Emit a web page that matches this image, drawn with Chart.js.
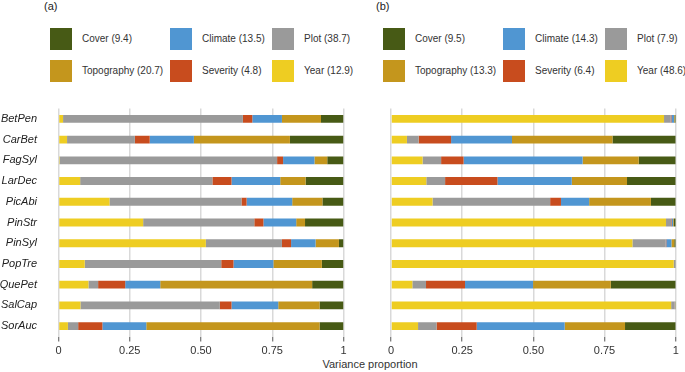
<!DOCTYPE html>
<html lang="en">
<head>
  <meta charset="UTF-8" />
  <title>Variance proportion</title>
  <script src="https://cdn.jsdelivr.net/npm/chart.js"></script>
  <style>
    body { margin: 0; background: #fff; font-family: "Liberation Sans", Arial, sans-serif; }
    #wrap { position: relative; width: 685px; height: 372px; overflow: hidden; }
    .tag { position: absolute; top: 0; font-size: 11px; color: #222; }
    .legend { position: absolute; top: 28px; display: grid; grid-template-columns: 120px 102px auto; grid-auto-rows: 32px; }
    .item { display: flex; align-items: flex-start; font-size: 10px; color: #333; }
    .item span.box { width: 22px; height: 22px; margin-right: 10px; flex: none; }
    .item span.txt { line-height: 22px; white-space: nowrap; }
    canvas { position: absolute; }
    #xtitle { position: absolute; top: 358px; left: 310px; width: 120px; text-align: center; font-size: 11px; color: #333; white-space: nowrap; }
  </style>
</head>
<body>
  <div id="wrap">
    <div class="tag" style="left:44px">(a)</div>
    <div class="tag" style="left:376px">(b)</div>
    <div class="legend" id="legendA" style="left:50px"></div>
    <div class="legend" id="legendB" style="left:383px"></div>
    <canvas id="chartA" width="352" height="263" style="left:0;top:95px"></canvas>
    <canvas id="chartB" width="345" height="263" style="left:340px;top:95px"></canvas>
    <div id="xtitle">Variance proportion</div>
  </div>

  <script>
    const species = ['BetPen', 'CarBet', 'FagSyl', 'LarDec', 'PicAbi', 'PinStr', 'PinSyl', 'PopTre', 'QuePet', 'SalCap', 'SorAuc'];

    // stacking order, left to right
    const groups = ['Year', 'Plot', 'Severity', 'Climate', 'Topography', 'Cover'];
    const colors = ['#eecd22', '#9a9a9a', '#c84c1e', '#5096d2', '#c4961d', '#475a15'];

    // legend order (row by row)
    const legendOrder = ['Cover', 'Climate', 'Plot', 'Topography', 'Severity', 'Year'];
    const totalsA = { Cover: '9.4', Climate: '13.5', Plot: '38.7', Topography: '20.7', Severity: '4.8', Year: '12.9' };
    const totalsB = { Cover: '9.5', Climate: '14.3', Plot: '7.9', Topography: '13.3', Severity: '6.4', Year: '48.6' };

    // panel (a)
    const yearA     = [0.016, 0.030, 0.004, 0.076, 0.179, 0.297, 0.517, 0.092, 0.105, 0.077, 0.033];
    const plotA     = [0.631, 0.238, 0.763, 0.464, 0.463, 0.390, 0.267, 0.479, 0.034, 0.489, 0.036];
    const severityA = [0.033, 0.052, 0.021, 0.067, 0.018, 0.032, 0.032, 0.043, 0.095, 0.041, 0.085];
    const climateA  = [0.104, 0.155, 0.110, 0.171, 0.160, 0.115, 0.086, 0.140, 0.123, 0.164, 0.154];
    const topoA     = [0.137, 0.337, 0.045, 0.089, 0.106, 0.031, 0.082, 0.170, 0.533, 0.145, 0.608];
    const coverA    = [0.079, 0.188, 0.057, 0.133, 0.074, 0.135, 0.016, 0.076, 0.110, 0.084, 0.084];

    // panel (b)
    const yearB     = [0.959, 0.056, 0.111, 0.124, 0.146, 0.966, 0.848, 0.993, 0.075, 0.984, 0.095];
    const plotB     = [0.023, 0.041, 0.065, 0.066, 0.413, 0.018, 0.117, 0.006, 0.048, 0.012, 0.065];
    const severityB = [0.003, 0.114, 0.079, 0.184, 0.038, 0.002, 0.002, 0.000, 0.137, 0.001, 0.141];
    const climateB  = [0.009, 0.214, 0.418, 0.261, 0.099, 0.005, 0.018, 0.000, 0.239, 0.001, 0.309];
    const topoB     = [0.002, 0.353, 0.197, 0.194, 0.217, 0.003, 0.010, 0.000, 0.273, 0.001, 0.212];
    const coverB    = [0.004, 0.222, 0.130, 0.171, 0.087, 0.006, 0.005, 0.001, 0.228, 0.001, 0.178];

    const xTicks = [0, 0.25, 0.5, 0.75, 1];
    const xTickLabels = ['0', '0.25', '0.50', '0.75', '1'];

    function buildLegend(id, totals) {
      const el = document.getElementById(id);
      legendOrder.forEach(name => {
        const item = document.createElement('div');
        item.className = 'item';
        item.innerHTML = `<span class="box" style="background:${colors[groups.indexOf(name)]}"></span><span class="txt">${name} (${totals[name]})</span>`;
        el.appendChild(item);
      });
    }
    buildLegend('legendA', totalsA);
    buildLegend('legendB', totalsB);

    function makeChart(id, series, axisWidth, padRight, showLabels) {
      const ctx = document.getElementById(id).getContext('2d');
      return new Chart(ctx, {
        type: 'bar',
        data: {
          labels: species,
          datasets: groups.map((g, i) => ({
            label: g,
            data: series[i],
            backgroundColor: colors[i],
            borderWidth: 0,
            barPercentage: 0.38,
            categoryPercentage: 1
          }))
        },
        options: {
          indexAxis: 'y',
          responsive: false,
          animation: false,
          devicePixelRatio: 1,
          layout: { padding: { top: 13.5, right: padRight, bottom: 0, left: 0 } },
          scales: {
            x: {
              stacked: true,
              min: 0,
              max: 1,
              afterBuildTicks: axis => { axis.ticks = xTicks.map(v => ({ value: v })); },
              afterFit: axis => { axis.height = 21.5; axis.paddingLeft = 0; axis.paddingRight = 0; },
              ticks: {
                padding: 3,
                color: '#333',
                font: { family: '"Liberation Sans", Arial', size: 11 },
                maxRotation: 0,
                callback: v => xTickLabels[xTicks.indexOf(v)]
              },
              grid: { color: '#d9d9d9', lineWidth: 1.5, tickLength: 5, tickColor: '#555', tickWidth: 1 },
              border: { display: false }
            },
            y: {
              stacked: true,
              afterFit: axis => { axis.width = axisWidth; axis.paddingTop = 0; axis.paddingBottom = 0; },
              grid: { display: false, drawTicks: false },
              border: { display: false },
              ticks: {
                display: showLabels,
                padding: 21.5,
                color: '#222',
                font: { family: '"Liberation Sans", Arial', size: 11, style: 'italic' }
              }
            }
          },
          plugins: {
            legend: { display: false },
            tooltip: { enabled: false }
          }
        }
      });
    }

    makeChart('chartA', [yearA, plotA, severityA, climateA, topoA, coverA], 58.5, 8.5, true);
    makeChart('chartB', [yearB, plotB, severityB, climateB, topoB, coverB], 51, 9.3, false);
  </script>
</body>
</html>
